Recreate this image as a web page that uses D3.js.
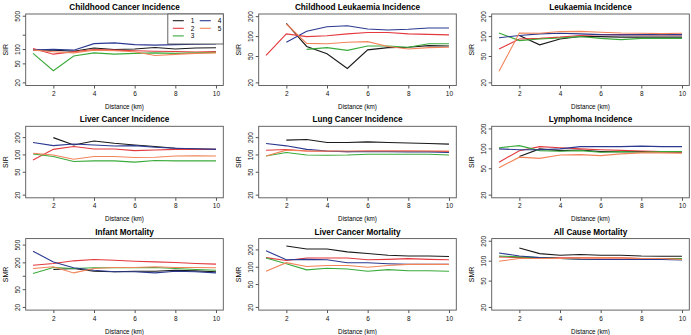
<!DOCTYPE html>
<html>
<head>
<meta charset="utf-8">
<script src="https://cdn.jsdelivr.net/npm/d3@7"></script>
<style>
  body { margin: 0; background: #fff; }
  svg { display: block; font-family: "Liberation Sans", Arial, sans-serif; }
</style>
</head>
<body>
<div class="chart"></div>
<script>
const distances = [1, 2, 3, 4, 5, 6, 7, 8, 9, 10];
const seriesNames = ['1', '2', '3', '4', '5'];
const seriesColors = ['#1a1a1a', '#e3393f', '#3aaa3a', '#2b3990', '#f2845a'];

const titles = [
  'Childhood Cancer Incidence', 'Childhood Leukaemia Incidence', 'Leukaemia Incidence',
  'Liver Cancer Incidence', 'Lung Cancer Incidence', 'Lymphoma Incidence',
  'Infant Mortality', 'Liver Cancer Mortality', 'All Cause Mortality'
];
const yLabels = ['SIR', 'SIR', 'SIR', 'SIR', 'SIR', 'SIR', 'SMR', 'SMR', 'SMR'];
const yLimits = [
  [20, 490], [20, 200], [20, 200],
  [20, 283], [20, 283], [20, 200],
  [20, 610], [20, 283], [20, 200]
];
const yTicks = [20, 50, 100, 200, 500];
const xTicks = [2, 4, 6, 8, 10];

// values per panel, series order 1..5 (null = not shown)
const childhoodCancer = [
  [97, 97, 92, 108, 100, 103, 110, 103, 108, 109],
  [105, 80, 90, 100, 97, 94, 92, 91, 89, 91],
  [83, 36, 73, 85, 80, 83, 85, 83, 85, 87],
  [97, 101, 97, 133, 138, 127, 124, 127, 129, 131],
  [97, 90, 85, 97, 94, 90, 75, 79, 83, 85]
];
const childhoodLeukaemia = [
  [null, 158, 71, 55, 33, 63, 68, 69, 73, 72],
  [52, 110, 100, 103, 110, 115, 115, 110, 108, 106],
  [null, null, 64, 68, 62, 72, 72, 69, 78, 78],
  [null, 82, 120, 141, 146, 130, 126, 129, 135, 135],
  [null, 155, 79, 78, 82, 84, 71, 65, 68, 69]
];
const leukaemia = [
  [null, 104, 75, 92, 100, 100, 98, 98, 98, 98],
  [65, 92, 94, 98, 104, 107, 107, 106, 106, 106],
  [113, 87, 92, 95, 100, 94, 90, 94, 94, 94],
  [96, 104, 110, 112, 110, 107, 106, 107, 107, 107],
  [30, 113, 112, 119, 120, 116, 113, 112, 111, 112]
];
const liverIncidence = [
  [null, 200, 149, 175, 160, 149, 140, 131, 127, 125],
  [82, 125, 140, 127, 127, 119, 122, 125, 125, 125],
  [104, 94, 77, 79, 79, 75, 80, 79, 79, 79],
  [164, 145, 155, 149, 143, 145, 136, 131, 128, 125],
  [107, 100, 84, 94, 94, 90, 91, 96, 97, 96]
];
const lungIncidence = [
  [null, 181, 186, 165, 165, 169, 165, 161, 158, 154],
  [121, 124, 117, 116, 114, 117, 117, 117, 116, 114],
  [96, 110, 100, 99, 100, 103, 103, 103, 103, 100],
  [158, 144, 125, 117, 114, 114, 114, 113, 113, 110],
  [96, 121, 117, 117, 117, 117, 117, 117, 117, 117]
];
const lymphoma = [
  [null, 77, 100, 94, 96, 91, 91, 91, 90, 89],
  [63, 94, 108, 104, 100, 97, 95, 93, 91, 89],
  [104, 112, 94, 92, 94, 89, 91, 89, 91, 91],
  [100, 97, 97, 100, 108, 108, 108, 110, 108, 108],
  [52, 75, 72, 81, 82, 79, 84, 87, 87, 86]
];
const infantMortality = [
  [null, 142, 149, 130, 126, 130, 130, 137, 132, 126],
  [177, 193, 222, 238, 229, 217, 210, 203, 193, 187],
  [115, 157, 149, 155, 155, 155, 157, 149, 142, 137],
  [364, 210, 155, 137, 126, 126, 119, 130, 126, 119],
  [149, 163, 119, 149, 157, 157, 163, 157, 157, 155]
];
const liverMortality = [
  [null, 234, 207, 207, 185, 173, 162, 157, 157, 154],
  [147, 131, 145, 145, 145, 135, 137, 141, 137, 135],
  [145, 115, 90, 96, 93, 85, 91, 87, 87, 85],
  [193, 135, 137, 135, 120, 120, 115, 112, 112, 112],
  [85, 120, 103, 107, 107, 100, 107, 112, 112, 112]
];
const allCause = [
  [null, 158, 130, 123, 126, 123, 123, 120, 119, 119],
  [116, 113, 113, 112, 112, 112, 112, 110, 110, 110],
  [120, 116, 113, 110, 107, 106, 106, 107, 107, 110],
  [133, 120, 113, 110, 107, 106, 106, 106, 106, 104],
  [100, 110, 110, 110, 112, 113, 112, 110, 110, 106]
];
const panelValues = [
  childhoodCancer, childhoodLeukaemia, leukaemia,
  liverIncidence, lungIncidence, lymphoma,
  infantMortality, liverMortality, allCause
];

const width = 691, height = 335;
const colPitch = 233, rowPitch = 112.3;
const boxLeft = 25.7, boxW = 197.6, boxTop = 14, boxH = 71.5;

const svg = d3.select('.chart')
  .append('svg')
  .attr('width', width)
  .attr('height', height);

titles.forEach((title, i) => {
  const col = i % 3, row = Math.floor(i / 3);
  const x0 = col * colPitch + boxLeft;
  const y0 = row * rowPitch + boxTop;
  const padX = boxW * 0.04 / 1.08, padY = boxH * 0.04 / 1.08;

  const x = d3.scaleLinear().domain([1, 10]).range([x0 + padX, x0 + boxW - padX]);
  const y = d3.scaleLog().domain(yLimits[i]).range([y0 + boxH - padY, y0 + padY]);

  const g = svg.append('g');

  // plot box
  g.append('rect')
    .attr('x', x0).attr('y', y0)
    .attr('width', boxW).attr('height', boxH)
    .attr('fill', 'none')
    .attr('stroke', '#555')
    .attr('stroke-width', 0.9);

  // x axis
  const xa = g.append('g').attr('transform', `translate(0,${y0 + boxH})`)
    .call(d3.axisBottom(x).tickValues(xTicks).tickSize(3).tickPadding(3));
  xa.select('.domain').remove();
  xa.selectAll('line').attr('stroke', '#555');
  xa.selectAll('text').attr('font-size', 6.5).attr('fill', '#111');

  // y axis, R-style: rotated labels, skip the ones that would collide
  const ticks = yTicks.filter(t => t >= yLimits[i][0] && t <= y.invert(y0));
  const ya = g.append('g').attr('transform', `translate(${x0},0)`);
  ya.selectAll('line').data(ticks).join('line')
    .attr('x1', -3).attr('x2', 0)
    .attr('y1', d => y(d)).attr('y2', d => y(d))
    .attr('stroke', '#555');
  let lastEdge = null;
  ticks.forEach(t => {
    const lab = ya.append('text')
      .attr('transform', `translate(-5.5,${y(t)}) rotate(-90)`)
      .attr('text-anchor', 'middle')
      .attr('font-size', 6.5)
      .attr('fill', '#111')
      .text(t);
    const w = lab.node().getComputedTextLength();
    if (lastEdge !== null && y(t) + w / 2 > lastEdge - 4.8) {
      lab.remove();
    } else {
      lastEdge = y(t) - w / 2;
    }
  });

  // axis titles
  g.append('text')
    .attr('transform', `translate(${x0 - 18},${y0 + boxH / 2}) rotate(-90)`)
    .attr('text-anchor', 'middle')
    .attr('font-size', 7)
    .text(yLabels[i]);
  g.append('text')
    .attr('x', x0 + boxW / 2)
    .attr('y', y0 + boxH + 23.5)
    .attr('text-anchor', 'middle')
    .attr('font-size', 6.3)
    .text('Distance (km)');
  g.append('text')
    .attr('x', x0 + boxW / 2)
    .attr('y', y0 - 4)
    .attr('text-anchor', 'middle')
    .attr('font-size', 8.2)
    .attr('font-weight', 'bold')
    .text(title);

  // lines
  const line = d3.line()
    .defined(d => d.v != null)
    .x(d => x(d.d))
    .y(d => y(d.v));
  panelValues[i].forEach((vals, s) => {
    g.append('path')
      .datum(vals.map((v, k) => ({ d: distances[k], v: v })))
      .attr('d', line)
      .attr('fill', 'none')
      .attr('stroke', seriesColors[s])
      .attr('stroke-width', 1.1);
  });

  // legend only in the first panel
  if (i === 0) {
    const lx = x0 + boxW - 55.5, ly = y0;
    const leg = g.append('g');
    leg.append('rect')
      .attr('x', lx).attr('y', ly)
      .attr('width', 55.5).attr('height', 30)
      .attr('fill', '#fff')
      .attr('stroke', '#555')
      .attr('stroke-width', 0.9);
    seriesNames.forEach((name, s) => {
      const c = Math.floor(s / 3), r = s % 3;
      const sx = lx + 5 + c * 27, sy = ly + 6.7 + r * 7.6;
      leg.append('line')
        .attr('x1', sx).attr('x2', sx + 11)
        .attr('y1', sy).attr('y2', sy)
        .attr('stroke', seriesColors[s])
        .attr('stroke-width', 1.1);
      leg.append('text')
        .attr('x', sx + 18).attr('y', sy + 2.3)
        .attr('font-size', 6.5)
        .text(name);
    });
  }
});
</script>
</body>
</html>
